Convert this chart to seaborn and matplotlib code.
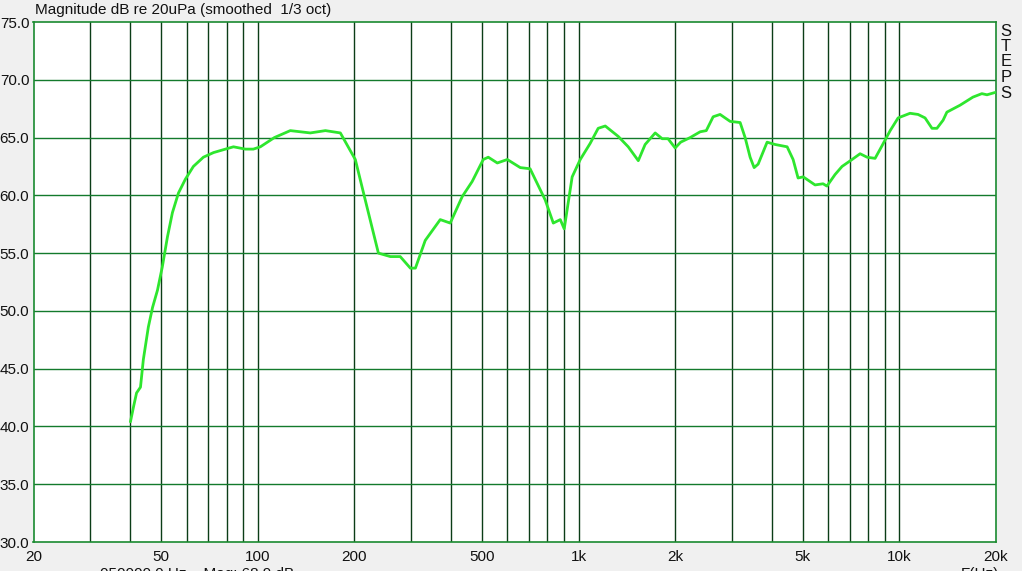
import matplotlib
matplotlib.use("Agg")
import matplotlib.pyplot as plt
import numpy as np
import pandas as pd
import seaborn as sns

# Frequency response (Hz, dB)
freq_hz = [40.1, 41.0, 41.9, 43.1, 44.0, 45.6, 47.0, 48.7, 50.4, 52.3,
           54.2, 56.6, 59.5, 63.0, 67.7, 72.8, 79.3, 84.0, 91.5, 96.9,
           101.9, 112.7, 126.3, 145.8, 162.5, 180.9, 201.4, 216.3, 237.7, 259,
           278, 299, 310, 332.7, 370.5, 398, 434, 466, 504.5, 523,
           558, 599.5, 658, 706, 759, 787, 834, 877, 902, 955,
           1012, 1087, 1151, 1211, 1329, 1428, 1535, 1612, 1733, 1822,
           1900, 2000, 2080, 2228, 2393, 2500, 2627, 2761, 2967, 3188,
           3304, 3425, 3525, 3628, 3869, 4098, 4467, 4663, 4832, 5012,
           5458, 5780, 5944, 6300, 6625, 7118, 7541, 7925, 8398, 8830,
           9358, 9907, 10791, 11430, 12020, 12634, 13090, 13680, 14060, 15453,
           16950, 18070, 18750, 19860]
mag_db = [40.4, 41.7, 42.9, 43.4, 45.8, 48.6, 50.3, 51.8, 53.8, 56.4,
          58.5, 60.2, 61.4, 62.5, 63.3, 63.7, 64.0, 64.2, 64.0, 64.0,
          64.2, 65.0, 65.6, 65.4, 65.6, 65.4, 63.1, 59.6, 55.0, 54.7,
          54.7, 53.7, 53.7, 56.1, 57.9, 57.6, 59.9, 61.2, 63.1, 63.3,
          62.8, 63.1, 62.4, 62.3, 60.5, 59.6, 57.6, 57.9, 57.1, 61.6,
          63.1, 64.5, 65.8, 66.0, 65.1, 64.2, 63.0, 64.4, 65.4, 64.9,
          64.9, 64.1, 64.6, 65.0, 65.5, 65.6, 66.8, 67.0, 66.4, 66.3,
          65.0, 63.3, 62.4, 62.7, 64.6, 64.4, 64.2, 63.1, 61.5, 61.6,
          60.9, 61.0, 60.8, 61.8, 62.5, 63.1, 63.6, 63.3, 63.2, 64.3,
          65.6, 66.7, 67.1, 67.0, 66.7, 65.8, 65.8, 66.5, 67.2, 67.8,
          68.5, 68.8, 68.7, 68.9]

y_ticks = [30, 35, 40, 45, 50, 55, 60, 65, 70, 75]
x_labels = {20: "20", 50: "50", 100: "100", 200: "200", 500: "500",
            1000: "1k", 2000: "2k", 5000: "5k", 10000: "10k", 20000: "20k"}
x_grid = [30, 40, 50, 60, 70, 80, 90, 100,
          200, 300, 400, 500, 600, 700, 800, 900, 1000,
          2000, 3000, 4000, 5000, 6000, 7000, 8000, 9000, 10000]

df = pd.DataFrame({"freq": freq_hz, "mag": mag_db})

sns.set_style("white")
plt.rcParams["font.family"] = ["Liberation Sans", "DejaVu Sans"]

fig = plt.figure(figsize=(10.22, 5.71), dpi=100, facecolor="#f0f0f0")
ax = fig.add_axes([33.5 / 1022, 1 - 542 / 571, (996 - 33.5) / 1022, 520 / 571])
ax.set_facecolor("white")

for f in x_grid:
    ax.axvline(f, color="#0b3d17", lw=1.0, zorder=1)
for v in y_ticks[1:-1]:
    ax.axhline(v, color="#137a2c", lw=1.0, zorder=1)

sns.lineplot(data=df, x="freq", y="mag", ax=ax, color="#2ee62e",
             lw=2.0, zorder=3, sort=False)

ax.set_xscale("log")
ax.set_xlim(20, 20000)
ax.set_ylim(30, 75)
ax.set_xticks(list(x_labels.keys()))
ax.set_xticklabels(list(x_labels.values()))
ax.xaxis.set_minor_locator(matplotlib.ticker.NullLocator())
ax.set_yticks(y_ticks)
ax.set_yticklabels([f"{v:.1f}" for v in y_ticks])
ax.tick_params(axis="x", length=0, labelsize=11, colors="#111111", pad=6)
ax.tick_params(axis="y", length=0, labelsize=11, colors="#111111", pad=3)
ax.set_xlabel("")
ax.set_ylabel("")
for s in ax.spines.values():
    s.set_color("#1a8a30")
    s.set_linewidth(1.2)

fig.text(35 / 1022, 1 - 10 / 571, "Magnitude dB re 20uPa (smoothed  1/3 oct)",
         fontsize=11, va="center", ha="left", color="#111111")
for i, ch in enumerate("STEPS"):
    fig.text(1006 / 1022, 1 - (31 + i * 15.5) / 571, ch, fontsize=12,
             ha="center", va="center", color="#111111")
fig.text(100 / 1022, -3 / 571, "050000.0 Hz    Mag: 68.9 dB", fontsize=11,
         ha="left", va="center", color="#111111")
fig.text(980 / 1022, -3 / 571, "F(Hz)", fontsize=11,
         ha="center", va="center", color="#111111")

fig.savefig("out.png", dpi=100, facecolor=fig.get_facecolor())
